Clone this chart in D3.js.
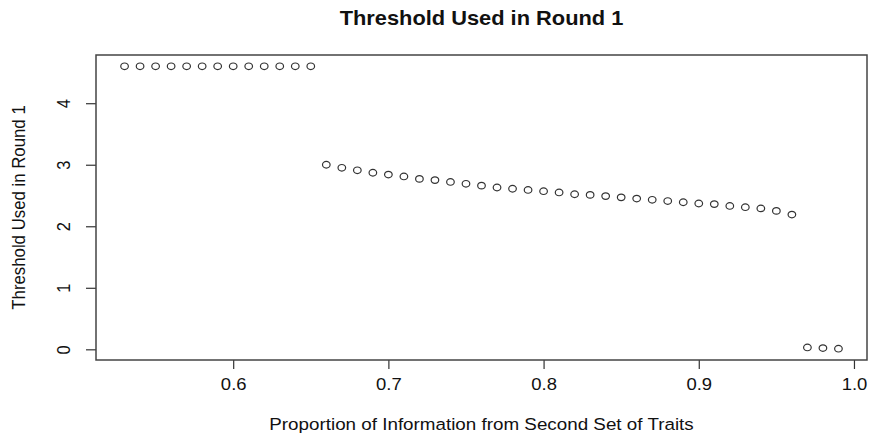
<!DOCTYPE html>
<html>
<head>
<meta charset="utf-8">
<script src="https://cdn.jsdelivr.net/npm/d3@7"></script>
<style>
  html, body { margin: 0; padding: 0; background: #fff; }
  svg { display: block; }
  text { font-family: "Liberation Sans", Arial, Helvetica, sans-serif; fill: #111; }
</style>
</head>
<body>
<svg id="chart" width="869" height="435"></svg>
<script>
const titleText = "Threshold Used in Round 1";
const xLabel = "Proportion of Information from Second Set of Traits";
const yLabel = "Threshold Used in Round 1";

const proportion = [
  0.53, 0.54, 0.55, 0.56, 0.57, 0.58, 0.59, 0.60, 0.61, 0.62, 0.63, 0.64, 0.65,
  0.66, 0.67, 0.68, 0.69, 0.70, 0.71, 0.72, 0.73, 0.74, 0.75, 0.76, 0.77, 0.78,
  0.79, 0.80, 0.81, 0.82, 0.83, 0.84, 0.85, 0.86, 0.87, 0.88, 0.89, 0.90, 0.91,
  0.92, 0.93, 0.94, 0.95, 0.96, 0.97, 0.98, 0.99
];
const threshold = [
  4.60, 4.60, 4.60, 4.60, 4.60, 4.60, 4.60, 4.60, 4.60, 4.60, 4.60, 4.60, 4.60,
  3.00, 2.95, 2.91, 2.87, 2.84, 2.81, 2.77, 2.75, 2.72, 2.69, 2.66, 2.63, 2.61,
  2.59, 2.57, 2.55, 2.52, 2.51, 2.49, 2.47, 2.45, 2.43, 2.41, 2.39, 2.37, 2.36,
  2.33, 2.31, 2.29, 2.25, 2.19, 0.03, 0.02, 0.01
];
const xTicks = [0.6, 0.7, 0.8, 0.9, 1.0];
const xTickLabels = ["0.6", "0.7", "0.8", "0.9", "1.0"];
const yTicks = [0, 1, 2, 3, 4];
const yTickLabels = ["0", "1", "2", "3", "4"];

const svg = d3.select("#chart");
const box = { left: 96, right: 867, top: 55, bottom: 360 };
const sx = 1.12; // horizontal stretch of the reference picture

// R-style 4% padding
const xr = d3.extent(proportion), yr = d3.extent(threshold);
const xPad = (xr[1] - xr[0]) * 0.04, yPad = (yr[1] - yr[0]) * 0.04;
const x = d3.scaleLinear().domain([xr[0] - xPad, xr[1] + xPad]).range([box.left, box.right]);
const y = d3.scaleLinear().domain([yr[0] - yPad, yr[1] + yPad]).range([box.bottom, box.top]);

// Axes
const xAxis = d3.axisBottom(x).tickValues(xTicks).tickFormat((d, i) => xTickLabels[i]).tickSize(9).tickPadding(0);
const gx = svg.append("g").attr("transform", `translate(0,${box.bottom})`).call(xAxis);
gx.select(".domain").remove();
gx.selectAll(".tick line").attr("stroke", "#333").attr("stroke-width", 1.2);
gx.selectAll(".tick text").remove();
gx.selectAll(".tick").append("text")
  .attr("text-anchor", "middle")
  .attr("font-size", 16.5)
  .attr("transform", `translate(0,30) scale(${sx},1)`)
  .text((d, i) => xTickLabels[i]);

const yAxis = d3.axisLeft(y).tickValues(yTicks).tickSize(10).tickPadding(0);
const gy = svg.append("g").attr("transform", `translate(${box.left},0)`).call(yAxis);
gy.select(".domain").remove();
gy.selectAll(".tick line").attr("stroke", "#333").attr("stroke-width", 1.2);
gy.selectAll(".tick text").remove();
gy.selectAll(".tick").append("text")
  .attr("text-anchor", "middle")
  .attr("font-size", 16.5)
  .attr("transform", `translate(-26,0) scale(${sx},1) rotate(-90)`)
  .text((d, i) => yTickLabels[i]);

// Plot box
svg.append("rect")
  .attr("x", box.left).attr("y", box.top)
  .attr("width", box.right - box.left).attr("height", box.bottom - box.top)
  .attr("fill", "none").attr("stroke", "#444").attr("stroke-width", 1.5);

// Points (open circles)
svg.append("g").selectAll("ellipse")
  .data(proportion.map((p, i) => ({ p, t: threshold[i] })))
  .join("ellipse")
  .attr("cx", d => x(d.p))
  .attr("cy", d => y(d.t))
  .attr("rx", 3.8)
  .attr("ry", 3.3)
  .attr("fill", "none")
  .attr("stroke", "#333")
  .attr("stroke-width", 1.2);

// Title
svg.append("text")
  .attr("text-anchor", "middle")
  .attr("font-weight", "bold")
  .attr("font-size", 19.5)
  .attr("transform", `translate(${(box.left + box.right) / 2},25) scale(${sx},1)`)
  .text(titleText);

// X label
svg.append("text")
  .attr("text-anchor", "middle")
  .attr("font-size", 16.8)
  .attr("transform", `translate(${(box.left + box.right) / 2},430) scale(${sx},1)`)
  .text(xLabel);

// Y label
svg.append("text")
  .attr("text-anchor", "middle")
  .attr("font-size", 16.8)
  .attr("transform", `translate(25,${(box.top + box.bottom) / 2}) scale(${sx},1) rotate(-90)`)
  .text(yLabel);
</script>
</body>
</html>
